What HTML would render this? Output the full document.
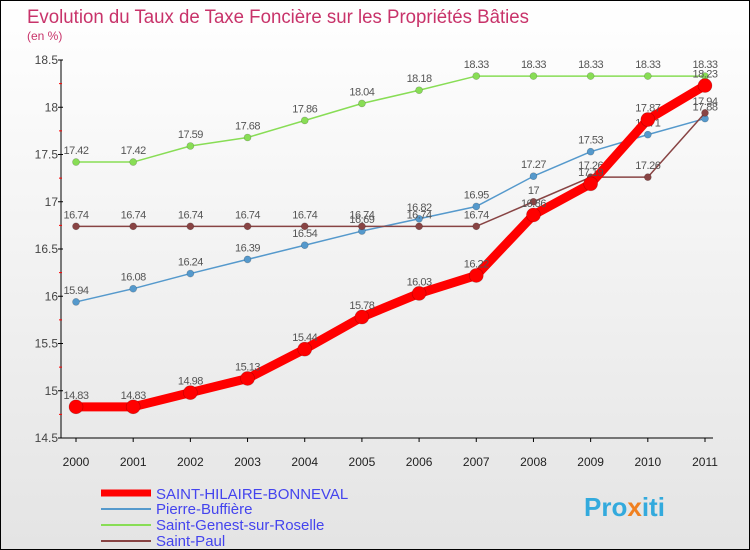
<!DOCTYPE html>
<html><head><meta charset="utf-8"><style>
body{margin:0;}
#wrap{position:relative;width:748px;height:548px;border:1px solid #000;background:linear-gradient(#fff,#e4e4e4);overflow:hidden;font-family:"Liberation Sans","DejaVu Sans",sans-serif;}
</style></head><body>
<div id="wrap">
<svg id="chart" width="748" height="548">
<text x="26" y="22" font-size="19" fill="#c8336a" textLength="502" lengthAdjust="spacingAndGlyphs">Evolution du Taux de Taxe Foncière sur les Propriétés Bâties</text>
<text x="26" y="39" font-size="12" fill="#c8336a">(en %)</text>
<g id="axes"></g>
<g id="series"></g>
<g id="legend">
<line x1="100" y1="492" x2="150" y2="492" stroke="#f00" stroke-width="7"/>
<text x="155" y="498" font-size="15" fill="#4444ee">SAINT-HILAIRE-BONNEVAL</text>
<line x1="100" y1="508" x2="150" y2="508" stroke="#5599cc" stroke-width="2"/>
<text x="155" y="513" font-size="15" fill="#4444ee">Pierre-Buffière</text>
<line x1="100" y1="524" x2="150" y2="524" stroke="#88dd55" stroke-width="2"/>
<text x="155" y="529" font-size="15" fill="#4444ee">Saint-Genest-sur-Roselle</text>
<line x1="100" y1="540" x2="150" y2="540" stroke="#884444" stroke-width="2"/>
<text x="155" y="545" font-size="15" fill="#4444ee">Saint-Paul</text>
</g>
<text x="583" y="515" font-size="26" font-weight="bold" fill="#33aadd">Pro<tspan fill="#f08020">x</tspan>iti</text>
</svg>
</div>
<script>
const years=[2000,2001,2002,2003,2004,2005,2006,2007,2008,2009,2010,2011];
const yTicks=[14.5,15,15.5,16,16.5,17,17.5,18,18.5];
const hilaire=[14.83,14.83,14.98,15.13,15.44,15.78,16.03,16.22,16.86,17.19,17.87,18.23];
const pierre=[15.94,16.08,16.24,16.39,16.54,16.69,16.82,16.95,17.27,17.53,17.71,17.88];
const genest=[17.42,17.42,17.59,17.68,17.86,18.04,18.18,18.33,18.33,18.33,18.33,18.33];
const paul=[16.74,16.74,16.74,16.74,16.74,16.74,16.74,16.74,17,17.26,17.26,17.94];
const NS="http://www.w3.org/2000/svg";
function xs(i){return 75+i*(704-75)/11;}
function ys(v){return 437-(v-14.5)*94.5;}
function mk(t,a,p){const e=document.createElementNS(NS,t);for(const k in a)e.setAttribute(k,a[k]);p.appendChild(e);return e;}
const ax=document.getElementById('axes');
const yl=mk('line',{x1:60,y1:ys(18.5),x2:60,y2:ys(14.5),stroke:'#000'},ax);


const xl=mk('line',{x1:60,y1:ys(14.5),x2:712,y2:ys(14.5),stroke:'#000'},ax);


yTicks.forEach((v,i)=>{
  mk('line',{x1:57,y1:ys(v),x2:62,y2:ys(v),stroke:'#000'},ax);
  if(i<yTicks.length-1)mk('line',{x1:58,y1:ys(v+0.25),x2:61,y2:ys(v+0.25),stroke:'#f00'},ax);
  const t=mk('text',{x:57,y:ys(v)+4,'font-size':12,fill:'#444','text-anchor':'end'},ax);
  t.textContent=String(v);
  
  
});
years.forEach((y,i)=>{
  mk('line',{x1:xs(i),y1:ys(14.5),x2:xs(i),y2:ys(14.5)+4,stroke:'#000'},ax);
  const t=mk('text',{x:xs(i),y:465,'font-size':12,fill:'#222','text-anchor':'middle'},ax);
  t.textContent=String(y);
  
  
});
const sg=document.getElementById('series');
function draw(vals,color,w,r,name){
  const g=mk('g',{},sg);
  
  
  const pl=mk('polyline',{points:vals.map((v,i)=>xs(i)+','+ys(v)).join(' '),fill:'none',stroke:color,'stroke-width':w,'stroke-linejoin':'round'},g);
  
  
  vals.forEach((v,i)=>{
    const c=mk('circle',{cx:xs(i),cy:ys(v),r:r,fill:color,stroke:'rgba(0,0,0,0.25)','stroke-width':0.6},g);
    
    
    const t=mk('text',{x:xs(i),y:ys(v)-8,'font-size':11,fill:'#555','text-anchor':'middle','letter-spacing':'-0.5'},g);
    t.textContent=String(v);
    
    
  });
}
draw(genest,'#88dd55',1.5,3.5,'series-saint-genest');
draw(pierre,'#5599cc',1.5,3.5,'series-pierre-buffiere');
draw(paul,'#884444',1.5,3.5,'series-saint-paul');
draw(hilaire,'#ff0000',9,7,'series-saint-hilaire');
</script>
</body></html>
